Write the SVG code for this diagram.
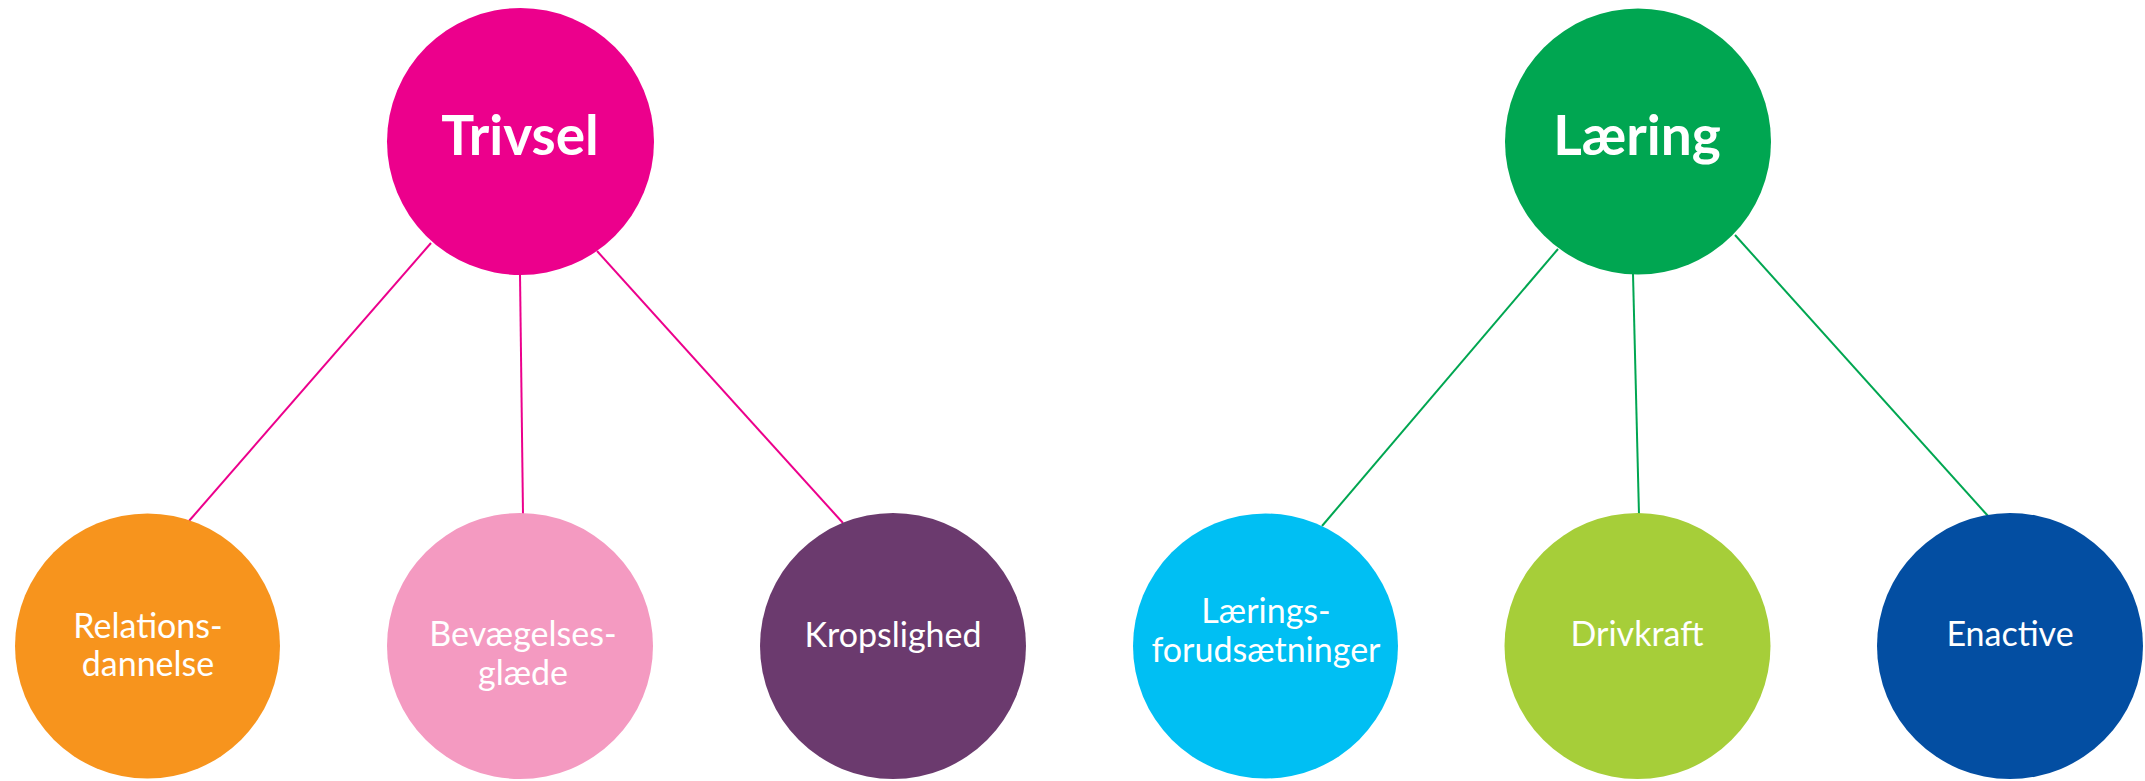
<svg xmlns="http://www.w3.org/2000/svg" width="2145" height="781" viewBox="0 0 2145 781">
<style>
.main{font-family:Lato,"Open Sans",sans-serif;font-weight:bold;font-size:55px;fill:#fff;text-anchor:middle}
.sub{font-family:Lato,"Open Sans",sans-serif;font-size:34px;fill:#fff;text-anchor:middle}
.cp{stroke:#EC008C;stroke-width:2;fill:none}
.cg{stroke:#00A651;stroke-width:2;fill:none}
</style>
<rect width="2145" height="781" fill="#fff"/>
<g id="connectors">
<line class="cp" x1="431" y1="243" x2="189" y2="521"/>
<line class="cp" x1="520" y1="274" x2="523" y2="515"/>
<line class="cp" x1="597" y1="251" x2="843" y2="523"/>
<line class="cg" x1="1558" y1="249" x2="1322" y2="526"/>
<line class="cg" x1="1633" y1="274" x2="1639" y2="515"/>
<line class="cg" x1="1735" y1="235" x2="1988" y2="516"/>
</g>
<g id="trivsel"><circle cx="520.5" cy="141.5" r="133.5" fill="#EC008C"/><text class="main" x="520" y="155">Trivsel</text></g>
<g id="laering"><circle cx="1638" cy="141.5" r="133" fill="#00A651"/><text class="main" x="1637" y="155">Læring</text></g>
<g id="relationsdannelse"><circle cx="147.5" cy="646" r="132.5" fill="#F7941D"/><text class="sub" x="148" y="638">Relations-</text><text class="sub" x="148" y="676">dannelse</text></g>
<g id="bevaegelsesglaede"><circle cx="520" cy="646" r="133" fill="#F49AC1"/><text class="sub" x="523" y="646">Bevægelses-</text><text class="sub" x="523" y="685">glæde</text></g>
<g id="kropslighed"><circle cx="893" cy="646" r="133" fill="#6B3A6E"/><text class="sub" x="893" y="647">Kropslighed</text></g>
<g id="laeringsforudsaetninger"><circle cx="1265.5" cy="646" r="132.5" fill="#00BFF3"/><text class="sub" x="1266" y="623">Lærings-</text><text class="sub" x="1266" y="662">forudsætninger</text></g>
<g id="drivkraft"><circle cx="1637.5" cy="646" r="133" fill="#A6CE39"/><text class="sub" x="1637" y="646">Drivkraft</text></g>
<g id="enactive"><circle cx="2010" cy="646" r="133" fill="#034EA2"/><text class="sub" x="2010" y="646">Enactive</text></g>
</svg>
